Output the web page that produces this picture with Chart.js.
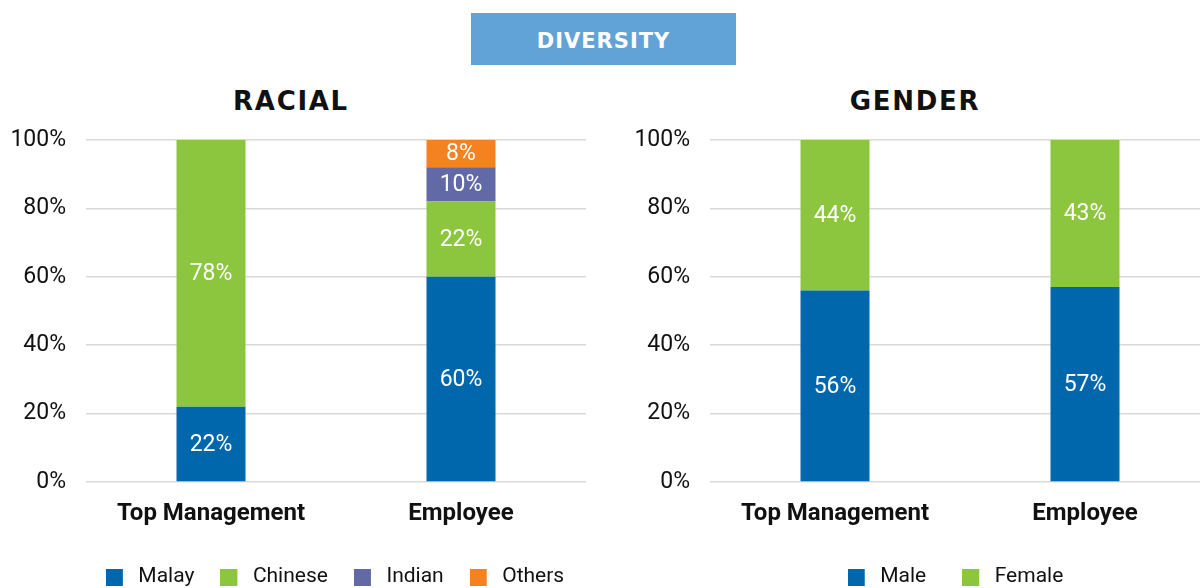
<!DOCTYPE html>
<html>
<head>
<meta charset="utf-8">
<script src="https://cdn.jsdelivr.net/npm/chart.js@4/dist/chart.umd.min.js"></script>
<style>
  html, body { margin:0; padding:0; width:1200px; height:588px; overflow:hidden; background:#fff; }
  #banner { position:absolute; left:471px; top:13px; width:265px; height:52px; background:#62a3d7;
    color:#fff; font-family:"DejaVu Sans", sans-serif; font-weight:bold; font-size:21px; letter-spacing:1px;
    display:flex; align-items:center; justify-content:center; box-sizing:border-box; padding-top:3px; }
  .title { position:absolute; top:83px; width:586px; text-align:center; font-family:"DejaVu Sans", sans-serif;
    font-weight:bold; font-size:26px; letter-spacing:1.7px; color:#111; line-height:36px; }
  .wrap { position:absolute; top:0; width:600px; height:588px; }
</style>
</head>
<body>
<div id="banner">DIVERSITY</div>
<div class="title" style="left:-2px;">RACIAL</div>
<div class="title" style="left:622px;">GENDER</div>
<div class="wrap" style="left:0px;"><canvas id="racial" width="600" height="588"></canvas></div>
<div class="wrap" style="left:624px;"><canvas id="gender" width="600" height="588"></canvas></div>
<script>
const categories = ["Top Management", "Employee"];
const yTickLabels = ["0%", "20%", "40%", "60%", "80%", "100%"];

const racialSeries = ["Malay", "Chinese", "Indian", "Others"];
const malay   = [22, 60];
const chinese = [78, 22];
const indian  = [0, 10];
const others  = [0, 8];

const genderSeries = ["Male", "Female"];
const male   = [56, 57];
const female = [44, 43];

const COLORS = { blue:"#0067ac", green:"#8cc63f", purple:"#616aa6", orange:"#f58220" };

// legend swatch: 17x17 square inside a slightly wider transparent image (wider box-to-text gap)
const SW_W = 22;
function swatch(color) {
  const c = document.createElement("canvas");
  c.width = SW_W; c.height = 17;
  const g = c.getContext("2d");
  g.fillStyle = color;
  g.fillRect(0, 0, 17, 17);
  return c;
}

const valueLabels = {
  id: "valueLabels",
  afterDatasetsDraw(chart) {
    const ctx = chart.ctx;
    ctx.save();
    ctx.fillStyle = "#ffffff";
    ctx.font = "23px Roboto";
    ctx.textAlign = "center";
    ctx.textBaseline = "middle";
    chart.data.datasets.forEach((ds, di) => {
      const meta = chart.getDatasetMeta(di);
      meta.data.forEach((bar, i) => {
        const v = ds.data[i];
        if (!v) return;
        const p = bar.getProps(["x", "y", "base"], true);
        ctx.fillText(v + "%", p.x, (p.y + p.base) / 2 + 1);
      });
    });
    ctx.restore();
  }
};

// lay: pad = legend item spacing, dx = horizontal shift of legend box
function makeChart(id, datasets, lay) {
  const shiftLegend = {
    id: "shiftLegend",
    afterLayout(chart) {
      if (chart.legend) { chart.legend.left += lay.dx; chart.legend.right += lay.dx; }
    }
  };
  return new Chart(document.getElementById(id), {
    type: "bar",
    data: { labels: categories, datasets: datasets },
    plugins: [valueLabels, shiftLegend],
    options: {
      responsive: false,
      animation: false,
      layout: { padding: { top: 140, left: 0, right: 14, bottom: -9.5 } },
      datasets: { bar: { categoryPercentage: 1.0, barPercentage: 0.276 } },
      scales: {
        x: {
          stacked: true,
          grid: { display: false, drawTicks: false },
          border: { display: false },
          ticks: { color: "#111", font: { family: "Roboto", size: 24, weight: "bold" }, padding: 18 },
          afterFit(scale) { scale.height = 84.5 - lay.pad; }
        },
        y: {
          stacked: true,
          min: 0, max: 100,
          grid: { color: "#d9d9d9", lineWidth: 1.5, drawTicks: false },
          border: { display: false },
          ticks: {
            stepSize: 20, padding: 20, color: "#111",
            font: { family: "Roboto", size: 23 },
            callback: (v) => yTickLabels[v / 20]
          },
          afterFit(scale) { scale.width = 86; }
        }
      },
      plugins: {
        title: { display: false },
        tooltip: { enabled: false },
        legend: {
          display: true,
          position: "bottom",
          fullSize: true,
          labels: {
            usePointStyle: true, pointStyleWidth: SW_W,
            boxWidth: 17, boxHeight: 17, padding: lay.pad, color: "#111",
            font: { family: "Roboto", size: 21 },
            generateLabels(chart) {
              return Chart.defaults.plugins.legend.labels.generateLabels(chart).map((item, i) => {
                item.pointStyle = swatch(chart.data.datasets[i].backgroundColor);
                return item;
              });
            }
          }
        }
      }
    }
  });
}

makeChart("racial", [
  { label: racialSeries[0], data: malay,   backgroundColor: COLORS.blue },
  { label: racialSeries[1], data: chinese, backgroundColor: COLORS.green },
  { label: racialSeries[2], data: indian,  backgroundColor: COLORS.purple },
  { label: racialSeries[3], data: others,  backgroundColor: COLORS.orange }
], { pad: 26, dx: 42 });

makeChart("gender", [
  { label: genderSeries[0], data: male,   backgroundColor: COLORS.blue },
  { label: genderSeries[1], data: female, backgroundColor: COLORS.green }
], { pad: 36, dx: 38.5 });
</script>
</body>
</html>
